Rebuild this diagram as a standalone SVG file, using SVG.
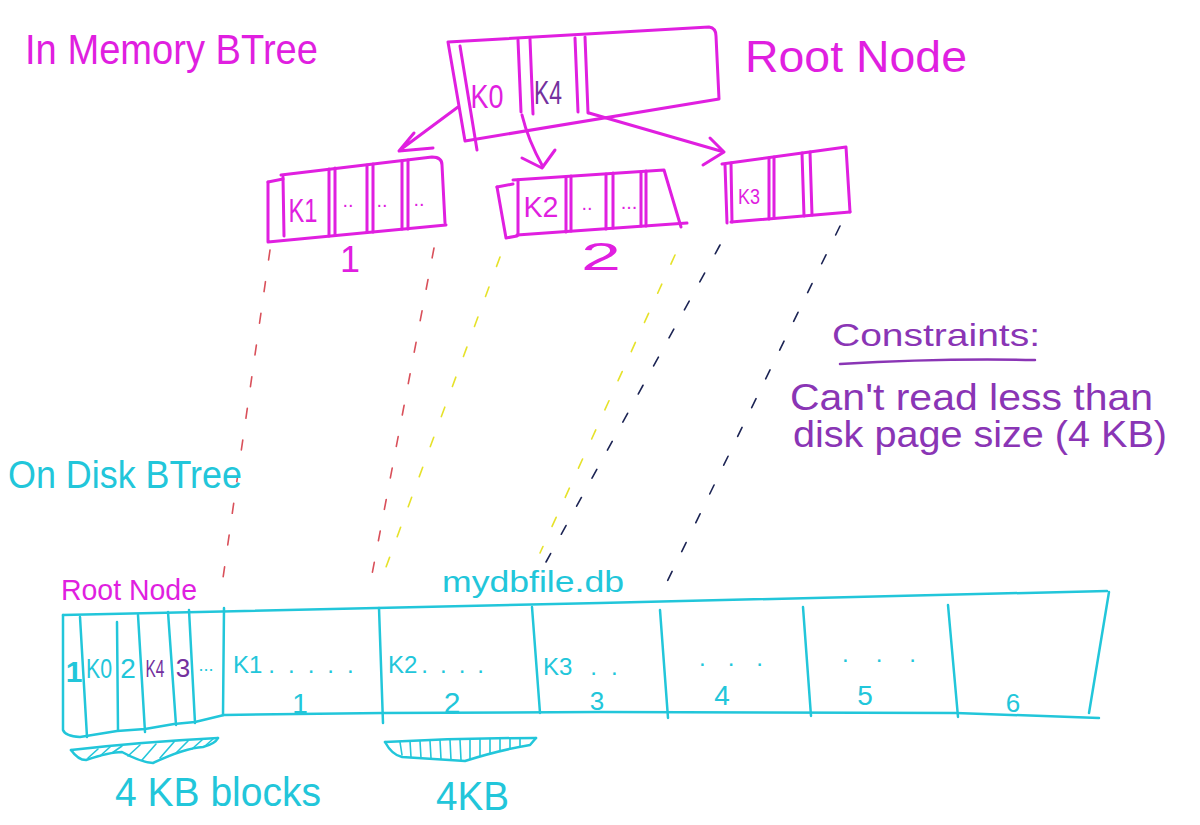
<svg xmlns="http://www.w3.org/2000/svg" width="1200" height="825" viewBox="0 0 1200 825">
<style>
.bg{fill:#ffffff}
.mg{fill:none;stroke:#e01fe0;stroke-width:3;stroke-linecap:round;stroke-linejoin:round}
.cy{fill:none;stroke:#22c6da;stroke-width:2.5;stroke-linecap:round;stroke-linejoin:round}
.cyt{fill:none;stroke:#22c6da;stroke-width:1.6;stroke-linecap:round}
.pu{fill:none;stroke:#8a35b5;stroke-width:2.5;stroke-linecap:round}
.dash{fill:none;stroke-width:1.6;stroke-dasharray:10 22;stroke-linecap:round}
.red{stroke:#d9505a}
.yel{stroke:#e6e22a}
.nav{stroke:#1c2454}
text{font-family:"Liberation Sans","DejaVu Sans",sans-serif}
.tm{fill:#e01fe0}
.tc{fill:#22c6da}
.tp{fill:#8a35b5}
.tk{fill:#74309e}
</style>
<rect class="bg" x="0" y="0" width="1200" height="825"/>

<g id="title">
<text class="tm" x="25" y="64" font-size="42" textLength="293" lengthAdjust="spacingAndGlyphs">In Memory BTree</text>
</g>

<g id="root-node">
<path class="mg" d="M448,42 L709,27 Q716,28 716,36 L719,99 L465,141 Z"/>
<path class="mg" d="M460,46 L477,150"/>
<path class="mg" d="M518,40 L521,112 M530,39 L533,114"/>
<path class="mg" d="M575,38 L578,112 M585,37 L588,113"/>
<text class="tm" x="487" y="108" font-size="34" text-anchor="middle" textLength="33" lengthAdjust="spacingAndGlyphs">K0</text>
<text class="tk" x="548" y="104" font-size="34" text-anchor="middle" textLength="28" lengthAdjust="spacingAndGlyphs">K4</text>
<text class="tm" x="745" y="72" font-size="44" textLength="222" lengthAdjust="spacingAndGlyphs">Root Node</text>
</g>

<g id="child-1">
<path class="mg" d="M268,182 L268,242 L446,225"/>
<path class="mg" d="M268,182 L283,179"/>
<path class="mg" d="M281,175 L432,157 Q442,157 442,165 L445,223"/>
<path class="mg" d="M283,177 L284,236"/>
<path class="mg" d="M329,169 L329,236 M335,168 L335,235"/>
<path class="mg" d="M367,165 L367,232 M373,164 L373,232"/>
<path class="mg" d="M402,161 L402,229 M408,160 L408,229"/>
<text class="tm" x="303" y="222" font-size="34" text-anchor="middle" textLength="29" lengthAdjust="spacingAndGlyphs">K1</text>
<text class="tm" x="348" y="207" font-size="20" text-anchor="middle">..</text>
<text class="tm" x="382" y="207" font-size="20" text-anchor="middle">..</text>
<text class="tm" x="419" y="206" font-size="20" text-anchor="middle">..</text>
<text class="tm" x="350" y="272" font-size="36" text-anchor="middle">1</text>
</g>

<g id="child-2">
<path class="mg" d="M497,187 L506,238 L517,236"/>
<path class="mg" d="M497,187 L513,184"/>
<path class="mg" d="M513,180 L664,170 L681,227"/>
<path class="mg" d="M518,180 L518,235"/>
<path class="mg" d="M517,235 L687,223"/>
<path class="mg" d="M566,177 L566,232 M571,176 L571,231"/>
<path class="mg" d="M606,174 L606,229 M613,173 L613,228"/>
<path class="mg" d="M641,172 L641,226 M646,171 L646,226"/>
<text class="tm" x="541" y="217" font-size="30" text-anchor="middle" textLength="35" lengthAdjust="spacingAndGlyphs">K2</text>
<text class="tm" x="587" y="210" font-size="20" text-anchor="middle">..</text>
<text class="tm" x="629" y="209" font-size="20" text-anchor="middle">...</text>
<text class="tm" x="601" y="270" font-size="38" text-anchor="middle" textLength="40" lengthAdjust="spacingAndGlyphs">2</text>
</g>

<g id="child-3">
<path class="mg" d="M725,165 L727,223 M731,163 L732,222"/>
<path class="mg" d="M722,164 L846,147 L850,212"/>
<path class="mg" d="M731,222 L850,212"/>
<path class="mg" d="M769,158 L769,219 M774,157 L774,218"/>
<path class="mg" d="M802,153 L804,216 M810,152 L812,215"/>
<text class="tm" x="749" y="204" font-size="22" text-anchor="middle" textLength="22" lengthAdjust="spacingAndGlyphs">K3</text>
</g>

<g id="connectors">
<path class="mg" d="M458,107 L400,150 M414,133 L399,151 L433,148"/>
<path class="mg" d="M522,115 Q528,140 543,167 M522,158 L542,168 L555,150"/>
<path class="mg" d="M589,113 L724,152 M710,138 L724,152 L703,165"/>
<path class="dash red" d="M270,250 L223,578"/>
<path class="dash red" d="M434,248 L370,585"/>
<path class="dash yel" d="M500,257 L382,578"/>
<path class="dash yel" d="M675,255 L540,553"/>
<path class="dash nav" d="M720,245 L546,562"/>
<path class="dash nav" d="M840,226 L664,588"/>
</g>

<g id="on-disk-label">
<text class="tc" x="8" y="488" font-size="38" textLength="234" lengthAdjust="spacingAndGlyphs">On Disk BTree</text>
</g>

<g id="constraints">
<text class="tp" x="832" y="346" font-size="32" textLength="208" lengthAdjust="spacingAndGlyphs">Constraints:</text>
<path class="pu" d="M840,364 Q940,358 1035,360"/>
<text class="tp" x="790" y="410" font-size="36" textLength="363" lengthAdjust="spacingAndGlyphs">Can't read less than</text>
<text class="tp" x="793" y="447" font-size="36" textLength="374" lengthAdjust="spacingAndGlyphs">disk page size (4 KB)</text>
</g>

<g id="disk-file">
<text class="tm" x="61" y="600" font-size="30" textLength="136" lengthAdjust="spacingAndGlyphs">Root Node</text>
<text class="tc" x="442" y="592" font-size="30" textLength="182" lengthAdjust="spacingAndGlyphs">mydbfile.db</text>
<path class="cy" d="M63,615 L600,603 L1107,591"/>
<path class="cy" d="M1109,592 L1089,713"/>
<path class="cy" d="M63,615 L63,730 Q65,736 80,737 L117,731 L145,729 L174,724 L195,722 L224,715 L383,713 L600,712 L956,713 L1099,718"/>
<path class="cy" d="M80,617 L87,737 M117,622 L118,730 M138,615 L145,732 M168,612 L176,725 M189,610 L195,723 M224,608 L223,715"/>
<path class="cy" d="M379,608 L383,723 M532,607 L540,713 M660,610 L668,718 M803,607 L811,716 M948,605 L958,717"/>
<text class="tc" x="74" y="682" font-size="30" text-anchor="middle" font-weight="bold">1</text>
<text class="tc" x="99" y="678" font-size="28" text-anchor="middle" textLength="26" lengthAdjust="spacingAndGlyphs">K0</text>
<text class="tc" x="128" y="678" font-size="28" text-anchor="middle">2</text>
<text class="tk" x="155" y="677" font-size="24" text-anchor="middle" textLength="19" lengthAdjust="spacingAndGlyphs">K4</text>
<text class="tk" x="183" y="677" font-size="26" text-anchor="middle">3</text>
<text class="tc" x="206" y="671" font-size="18" text-anchor="middle">...</text>
<text class="tc" x="233" y="673" font-size="24">K1<tspan dx="6" letter-spacing="13">.....</tspan></text>
<text class="tc" x="388" y="673" font-size="24">K2<tspan dx="4" letter-spacing="12">....</tspan></text>
<text class="tc" x="543" y="675" font-size="24">K3<tspan dx="18" letter-spacing="14">..</tspan></text>
<text class="tc" x="699" y="666" font-size="24" letter-spacing="22">...</text>
<text class="tc" x="842" y="662" font-size="24" letter-spacing="27">...</text>
<text class="tc" x="300" y="713" font-size="28" text-anchor="middle">1</text>
<text class="tc" x="452" y="713" font-size="30" text-anchor="middle">2</text>
<text class="tc" x="597" y="710" font-size="26" text-anchor="middle">3</text>
<text class="tc" x="722" y="705" font-size="28" text-anchor="middle">4</text>
<text class="tc" x="865" y="705" font-size="28" text-anchor="middle">5</text>
<text class="tc" x="1013" y="712" font-size="26" text-anchor="middle">6</text>
</g>

<g id="brace-blocks">
<path class="cy" d="M71,750 Q140,742 218,738"/>
<path class="cy" d="M71,750 Q78,760 86,760 Q110,752 122,752 Q140,762 153,763 Q185,748 203,747 Q215,744 218,738"/>
<path class="cyt" d="M88,758 L98,749 M100,756 L110,747 M112,753 L122,746 M128,756 L140,745 M142,760 L156,744 M160,758 L174,742 M176,753 L188,741 M192,749 L202,740 M205,746 L213,739"/>
<text class="tc" x="115" y="806" font-size="40" textLength="206" lengthAdjust="spacingAndGlyphs">4 KB blocks</text>
</g>

<g id="brace-4kb">
<path class="cy" d="M385,742 Q460,738 536,738"/>
<path class="cy" d="M385,742 Q392,755 402,757 L465,761 Q500,750 530,745 L536,738"/>
<path class="cyt" d="M400,742 L402,755 M410,741 L411,757 M420,741 L421,758 M430,741 L431,758 M440,740 L441,759 M450,740 L451,760 M460,740 L461,760 M470,740 L470,759 M480,739 L480,756 M490,739 L490,753 M500,739 L500,751 M510,739 L510,749 M520,739 L520,747"/>
<text class="tc" x="436" y="810" font-size="40" textLength="73" lengthAdjust="spacingAndGlyphs">4KB</text>
</g>
</svg>
